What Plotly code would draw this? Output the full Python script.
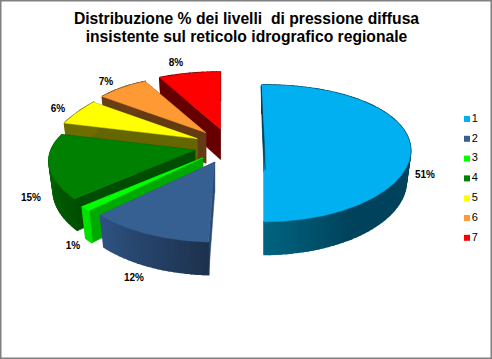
import numpy as np
import plotly.graph_objects as go

# ---- data ----
categories = ["1", "2", "3", "4", "5", "6", "7"]
values = [50.6, 12.2, 1.1, 14.9, 6.2, 7.1, 7.9]
pct_labels = ["51%", "12%", "1%", "15%", "6%", "7%", "8%"]
title_lines = ["Distribuzione % dei livelli  di pressione diffusa",
               "insistente sul reticolo idrografico regionale"]

# ---- styles ----
top_colors = ["#00B0F0", "#376092", "#00FF00", "#008000", "#FFFF00", "#FF9933", "#FF0000"]
arc_from = ["#00627F", "#2E5280", "#00E000", "#006C00", "#6E6E00", "#6A3E16", "#660000"]
arc_to = ["#00435C", "#1D324F", "#00E000", "#005200", "#6E6E00", "#6A3E16", "#660000"]
radial_colors = ["#00425A", "#2A4A72", "#00A800", "#004C00", "#666600", "#633A14", "#660000"]
fade_start = [0.83, 0, 0, 0, 0, 0, 0]

# ---- projection geometry (pixels of the 492x359 canvas) ----
W, H = 492, 359
CX, CY = 229.0, 146.0
EX, EY = 35.0, 17.6
RX, RY = 145.5, 68.5
K, KX = 0.168, 0.13
DEPTH = 30.5
SHRINK = 0.97
nudge_y = [-4.5, 0, 0, 0, 0, 0, 0]
start_trim = [-1.0, 0, 0, 0, 0, 0, 0]
end_trim = [-2.2, 0, 0, 0, 0, 0, 0]
label_xy = [(425, 175), (134, 278), (73, 246), (31, 198), (58, 109), (106, 82), (176, 63)]
LEG_X, LEG_Y0, LEG_DY = 467, 119, 19.8

edges = np.concatenate([[0], np.cumsum(values)]) / np.sum(values) * 360.0


def apex(i):
    mid = np.radians((edges[i] + edges[i + 1]) / 2)
    return CX + EX * np.sin(mid), CY - EY * np.cos(mid) + nudge_y[i]


def rim(i, deg):
    t = np.radians(deg)
    ax, ay = apex(i)
    pinch = 0.045 * np.exp(-((deg - 300) / 25) ** 2)
    return (ax + RX * np.sin(t) * (1 - KX * np.cos(t) - pinch),
            ay - RY * np.cos(t) * (1 - K * np.cos(t)))


def lower(i, x, y, deg=None):
    ax, _ = apex(i)
    d = DEPTH if deg is None else DEPTH * (1 - 0.07 * np.cos(np.radians(deg)))
    return ax + (x - ax) * SHRINK, y + d


def mix(c1, c2, f):
    a = [int(c1[j:j + 2], 16) for j in (1, 3, 5)]
    b = [int(c2[j:j + 2], 16) for j in (1, 3, 5)]
    return "rgb(%d,%d,%d)" % tuple(round(p + (q - p) * f) for p, q in zip(a, b))


fig = go.Figure()


def poly(xs, ys, color, lw=0.5):
    fig.add_trace(go.Scatter(x=list(xs) + [xs[0]], y=list(ys) + [ys[0]], mode="lines",
                             fill="toself", fillcolor=color,
                             line=dict(color=color, width=lw),
                             hoverinfo="skip", showlegend=False))


for i in range(6, -1, -1):
    a0 = edges[i] + start_trim[i]
    a1 = edges[i + 1] + end_trim[i]
    ax, ay = apex(i)
    blx, bly = lower(i, ax, ay)
    # radial faces
    for deg in (a1, a0):
        x, y = rim(i, deg)
        bx, by = lower(i, x, y, deg)
        poly([ax, x, bx, blx], [ay, y, by, bly], radial_colors[i])
    # curved outer wall, split so that it can carry a gradient
    n = max(2, int((a1 - a0) / 2))
    th = np.linspace(a0, a1, n + 1)
    for j in range(n):
        x0, y0 = rim(i, th[j])
        x1, y1 = rim(i, th[j + 1])
        b0x, b0y = lower(i, x0, y0, th[j])
        b1x, b1y = lower(i, x1, y1, th[j + 1])
        g = j / max(n - 1, 1)
        g = max(0.0, (g - fade_start[i]) / (1 - fade_start[i]))
        poly([x0, x1, b1x, b0x], [y0, y1, b1y, b0y], mix(arc_to[i], arc_from[i], g), lw=1.5)
    # top surface
    th = np.linspace(a0, a1, max(6, int(a1 - a0) * 2))
    xs, ys = zip(*[rim(i, d) for d in th])
    poly([ax] + list(xs), [ay] + list(ys), top_colors[i])

# thin sliver of the first slice's hidden wall
x0, y0 = rim(0, edges[0] + start_trim[0])
ax, ay = apex(0)
poly([x0 - 0.8, ax - 1.2, ax + 1.2, ax + 0.3], [y0 + 1, ay, ay + 28, ay], radial_colors[0])

# legend
fig.add_trace(go.Scatter(
    x=[LEG_X] * 7, y=[LEG_Y0 + k * LEG_DY for k in range(7)], mode="markers+text",
    marker=dict(symbol="square", size=6, color=top_colors, line=dict(width=0)),
    text=categories, textposition="middle right",
    textfont=dict(family="Liberation Sans", size=11, color="#000000"),
    hoverinfo="skip", showlegend=False))

# percentage labels
fig.add_trace(go.Scatter(
    x=[p[0] for p in label_xy], y=[p[1] for p in label_xy], mode="text", text=pct_labels,
    textposition="middle center",
    textfont=dict(family="Liberation Sans", size=10, color="#000000", weight="bold"),
    hoverinfo="skip", showlegend=False))

# two-line title
fig.add_trace(go.Scatter(
    x=[W / 2 + 0.5, W / 2 + 0.5], y=[20, 38], mode="text", text=title_lines,
    textposition="middle center",
    textfont=dict(family="Liberation Sans", size=15.7, color="#000000", weight="bold"),
    hoverinfo="skip", showlegend=False))

fig.update_layout(
    width=W, height=H, margin=dict(l=0, r=0, t=0, b=0), autosize=False,
    paper_bgcolor="#FFFFFF", plot_bgcolor="#FFFFFF", showlegend=False,
    xaxis=dict(range=[0, W], visible=False, fixedrange=True),
    yaxis=dict(range=[H, 0], visible=False, fixedrange=True),
    shapes=[dict(type="rect", xref="paper", yref="paper", x0=0, y0=0, x1=1, y1=1,
                 line=dict(color="#808080", width=3), layer="above")],
)
fig.write_html("out.html", config={"displayModeBar": False},
               post_script="document.body.style.margin='0';document.documentElement.style.overflow='hidden';")
